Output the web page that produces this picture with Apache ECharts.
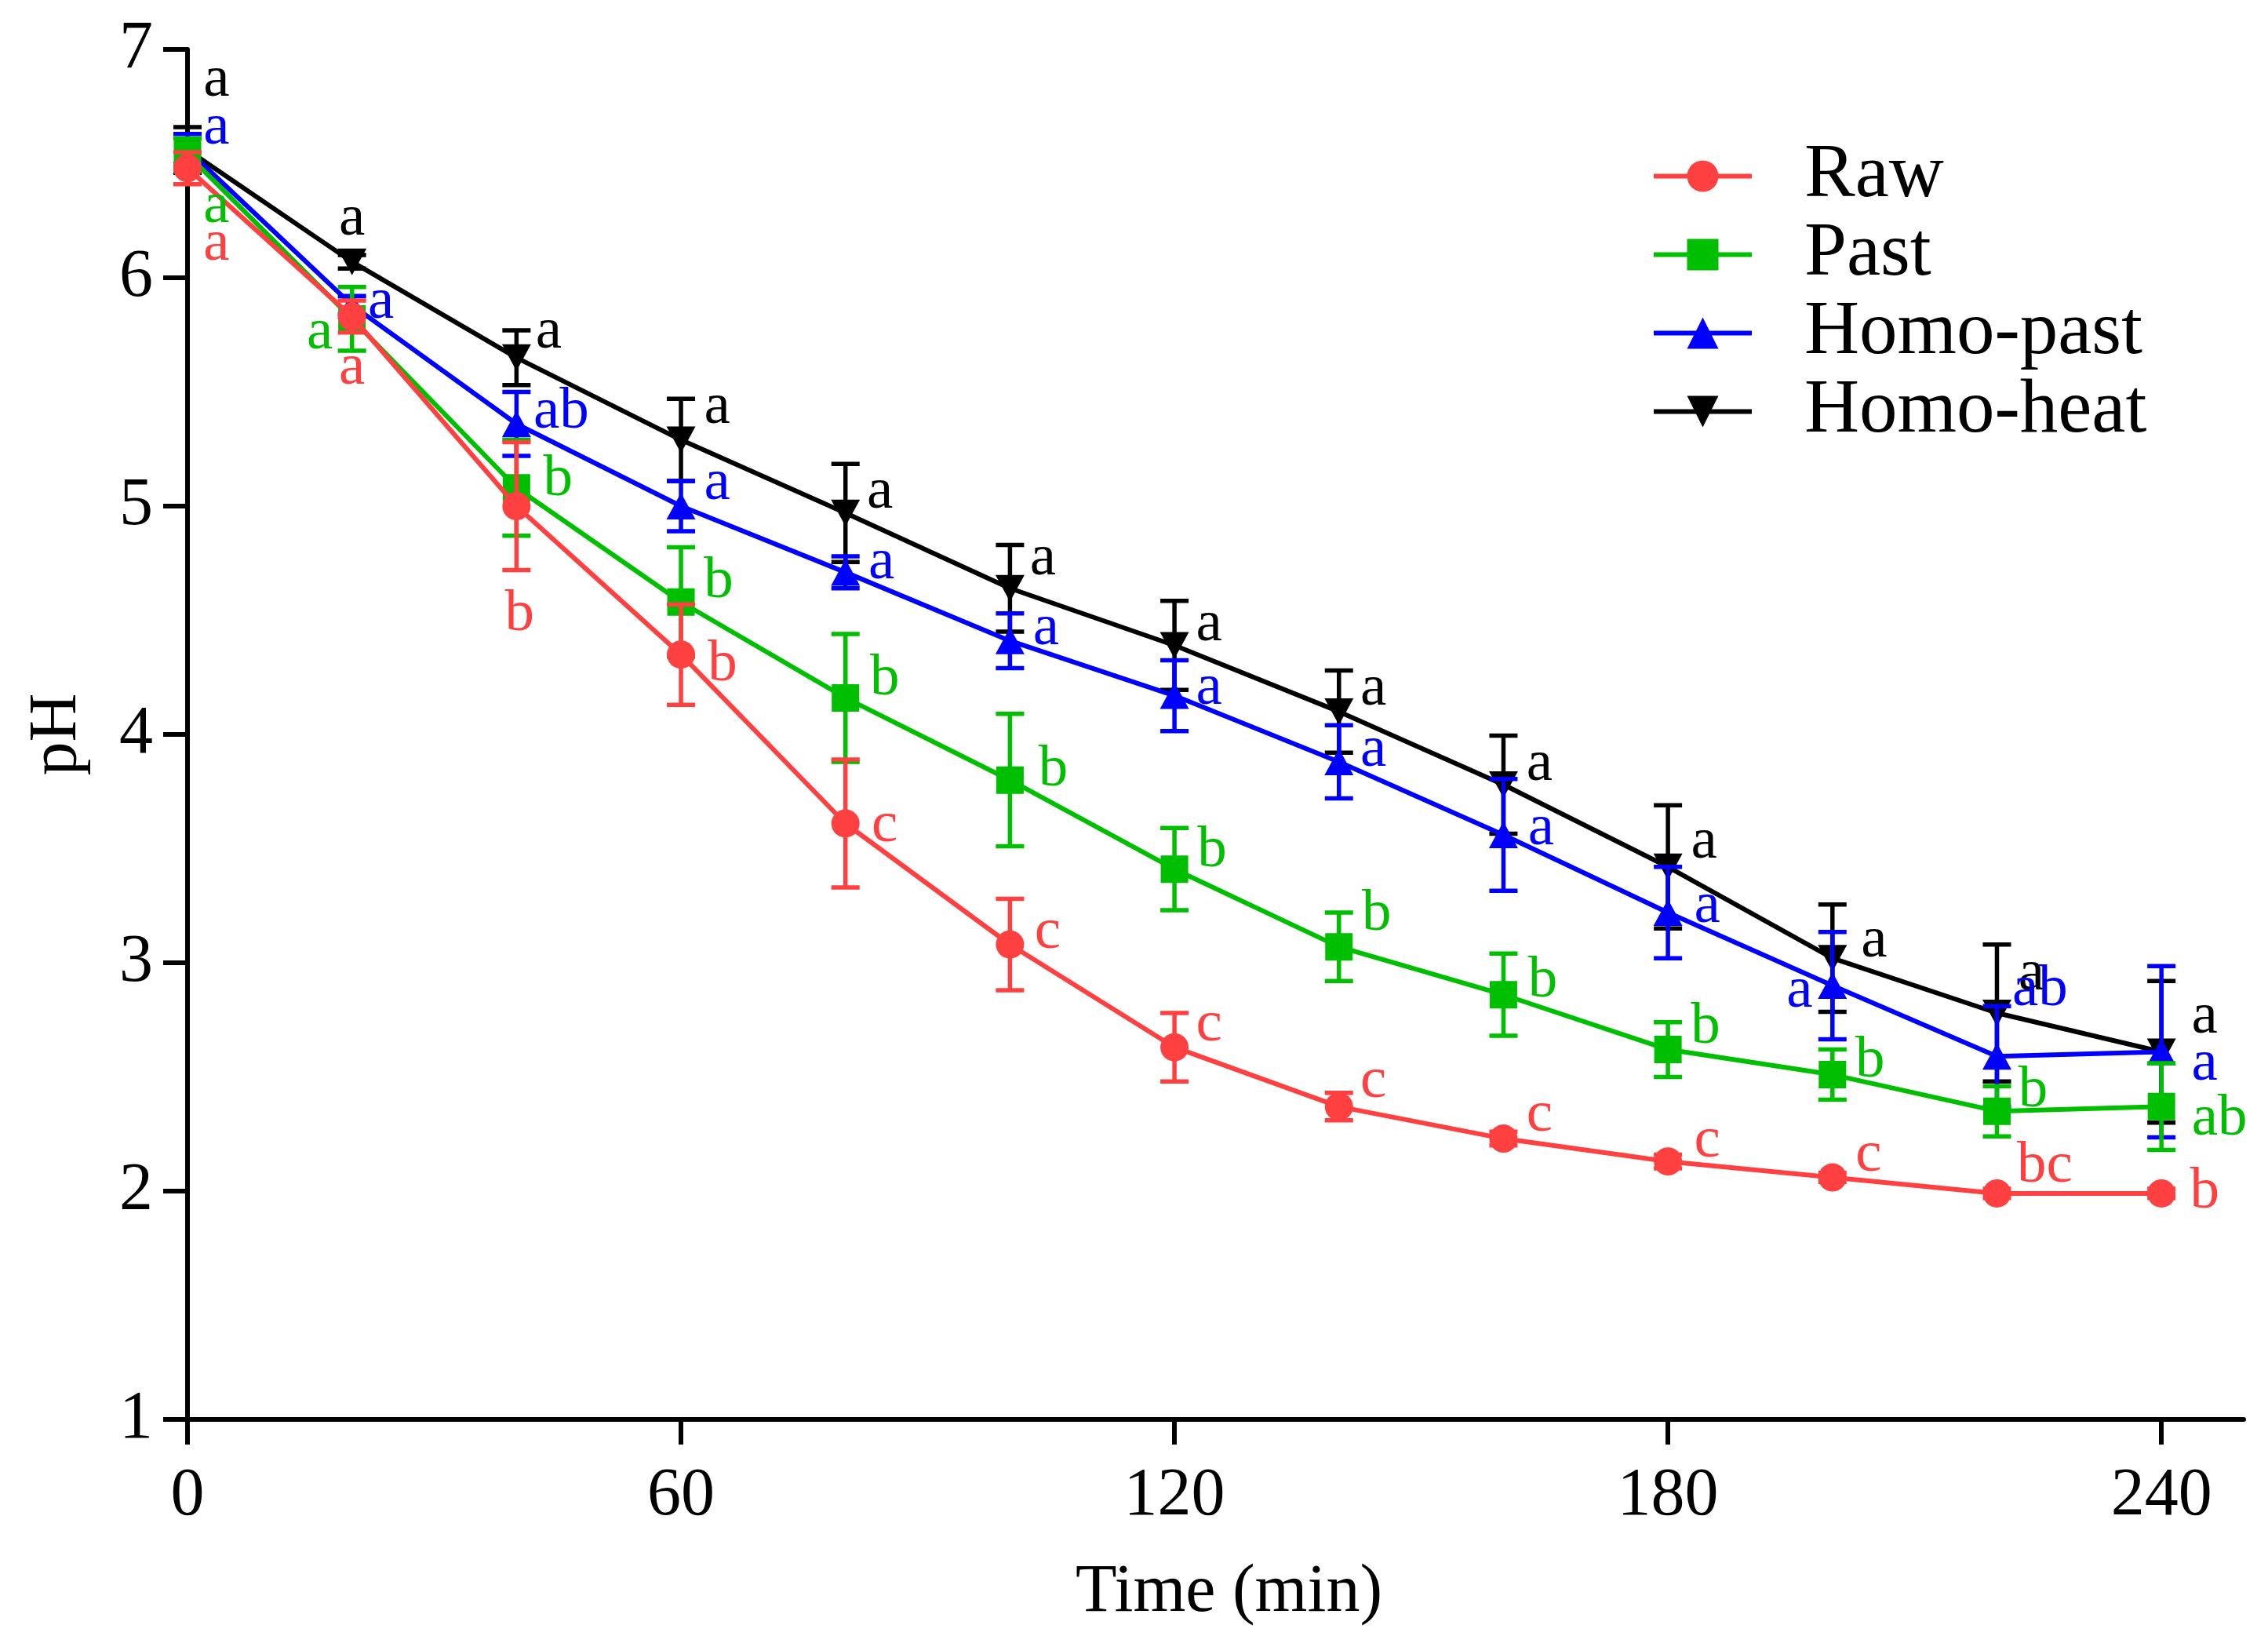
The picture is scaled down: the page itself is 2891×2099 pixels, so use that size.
<!DOCTYPE html>
<html>
<head>
<meta charset="utf-8">
<script src="https://cdn.jsdelivr.net/npm/echarts@6/dist/echarts.min.js"></script>
<style>
html,body{margin:0;padding:0;background:#fff;}
#chart{width:2891px;height:2099px;}
</style>
</head>
<body>
<div id="chart"></div>
<script>
// ---- data ----
const times = [0, 20, 40, 60, 80, 100, 120, 140, 160, 180, 200, 220, 240];
const xTicks = [0, 60, 120, 180, 240];
const seriesNames = ['Raw', 'Past', 'Homo-past', 'Homo-heat'];

const raw       = [6.48, 5.83, 5.00, 4.35, 3.61, 3.08, 2.63, 2.37, 2.23, 2.13, 2.06, 1.99, 1.99];
const rawSD     = [0.07, 0.07, 0.28, 0.22, 0.28, 0.20, 0.15, 0.06, 0.03, 0.03, 0.02, 0.02, 0.02];
const rawLetters = ['a', 'a', 'b', 'b', 'c', 'c', 'c', 'c', 'c', 'c', 'c', 'bc', 'b'];

const past      = [6.54, 5.82, 5.08, 4.58, 4.16, 3.80, 3.41, 3.07, 2.86, 2.62, 2.51, 2.35, 2.37];
const pastSD    = [0.07, 0.14, 0.21, 0.24, 0.28, 0.29, 0.18, 0.15, 0.18, 0.12, 0.11, 0.11, 0.19];
const pastLetters = ['a', 'a', 'b', 'b', 'b', 'b', 'b', 'b', 'b', 'b', 'b', 'b', 'ab'];

const homoPast   = [6.56, 5.88, 5.36, 5.00, 4.71, 4.41, 4.17, 3.88, 3.56, 3.22, 2.90, 2.59, 2.61];
const homoPastSD = [0.07, 0.04, 0.14, 0.11, 0.07, 0.12, 0.155, 0.16, 0.245, 0.20, 0.235, 0.22, 0.375];
const homoPastLetters = ['a', 'a', 'ab', 'a', 'a', 'a', 'a', 'a', 'a', 'a', 'a', 'ab', 'a'];

const homoHeat   = [6.56, 6.07, 5.65, 5.29, 4.97, 4.64, 4.39, 4.10, 3.78, 3.42, 3.02, 2.78, 2.61];
const homoHeatSD = [0.10, 0.03, 0.12, 0.18, 0.215, 0.19, 0.195, 0.18, 0.215, 0.27, 0.235, 0.30, 0.31];
const homoHeatLetters = ['a', 'a', 'a', 'a', 'a', 'a', 'a', 'a', 'a', 'a', 'a', 'a', 'a'];

// ---- style (label placement offsets in px, relative to the marker) ----
const labelOffsets = {
  'Raw': [[37,101],[0,70],[4,142],[53,17],[50,7],[48,-11],[44,-24],[44,-28],[46,-26],[50,-22],[46,-24],[61,-31],[55,2]],
  'Past': [[37,70],[-41,22],[53,-6],[48,-22],[50,-20],[55,-9],[48,-19],[48,-37],[50,-13],[48,-24],[48,-13],[46,-22],[74,20]],
  'Homo-past': [[37,-24],[37,0],[57,-11],[46,-25],[46,-8],[46,-11],[44,-5],[44,-11],[48,-4],[50,-4],[-42,11],[55,-81],[55,20]],
  'Homo-heat': [[37,-85],[0,-50],[41,-29],[46,-37],[44,-22],[42,-33],[44,-22],[44,-25],[46,-22],[46,-27],[53,-18],[44,-46],[55,-40]]
};
const colors = {'Raw':'#FF4040','Past':'#00BF00','Homo-past':'#0000FF','Homo-heat':'#000000'};
const symbols = {'Raw':'circle','Past':'rect','Homo-past':'triangle','Homo-heat':'triangle'};
const symbolSizes = {'Raw':36,'Past':35,'Homo-past':[37,34],'Homo-heat':[37,34]};
const rotates = {'Raw':0,'Past':0,'Homo-past':0,'Homo-heat':180};
const FONT = '"Liberation Serif", "Times New Roman", serif';

const groups = {
  'Raw': {v: raw, sd: rawSD, l: rawLetters},
  'Past': {v: past, sd: pastSD, l: pastLetters},
  'Homo-past': {v: homoPast, sd: homoPastSD, l: homoPastLetters},
  'Homo-heat': {v: homoHeat, sd: homoHeatSD, l: homoHeatLetters}
};

function errRender(color) {
  return function (params, api) {
    const x = api.value(0), y = api.value(1), e = api.value(2);
    const hi = api.coord([x, y + e]), lo = api.coord([x, y - e]);
    const hw = 18;
    const st = {stroke: color, lineWidth: 5.5, fill: null};
    return {type: 'group', children: [
      {type: 'line', shape: {x1: hi[0], y1: hi[1], x2: lo[0], y2: lo[1]}, style: st},
      {type: 'line', shape: {x1: hi[0] - hw, y1: hi[1], x2: hi[0] + hw, y2: hi[1]}, style: st},
      {type: 'line', shape: {x1: lo[0] - hw, y1: lo[1], x2: lo[0] + hw, y2: lo[1]}, style: st}
    ]};
  };
}
function labelRender(name) {
  const color = colors[name];
  const offs = labelOffsets[name];
  const letters = groups[name].l;
  return function (params, api) {
    const i = params.dataIndex;
    const c = api.coord([api.value(0), api.value(1)]);
    const o = offs[i];
    return {type: 'text', x: c[0] + o[0], y: c[1] + o[1] - 4,
      style: {text: letters[i], fill: color, font: '75px ' + FONT, align: 'center', verticalAlign: 'middle'}};
  };
}

const drawOrder = ['Homo-heat', 'Homo-past', 'Past', 'Raw'];
const series = [];
drawOrder.forEach(function (name, k) {
  const g = groups[name];
  series.push({
    type: 'custom', name: name + ' SD', coordinateSystem: 'cartesian2d',
    data: times.map(function (t, i) { return [t, g.v[i], g.sd[i]]; }),
    encode: {x: 0, y: 1}, renderItem: errRender(colors[name]), clip: false,
    z: 2 + k * 2, silent: true
  });
  series.push({
    type: 'line', name: name,
    data: times.map(function (t, i) { return [t, g.v[i]]; }),
    symbol: symbols[name], symbolSize: symbolSizes[name], symbolRotate: rotates[name],
    showAllSymbol: true,
    lineStyle: {color: colors[name], width: 6},
    itemStyle: {color: colors[name]},
    z: 3 + k * 2, animation: false
  });
});
drawOrder.forEach(function (name) {
  const g = groups[name];
  series.push({
    type: 'custom', name: name + ' letters', coordinateSystem: 'cartesian2d',
    data: times.map(function (t, i) { return [t, g.v[i]]; }),
    encode: {x: 0, y: 1}, renderItem: labelRender(name), clip: false, z: 20, silent: true
  });
});

const chart = echarts.init(document.getElementById('chart'), null, {renderer: 'canvas'});
chart.setOption({
  animation: false,
  backgroundColor: '#ffffff',
  grid: {left: 239, right: 31, top: 63, bottom: 290, containLabel: false},
  legend: {
    data: seriesNames, orient: 'vertical', left: 2100, top: 171,
    itemWidth: 125, itemHeight: 50, itemGap: 3,
    lineStyle: {width: 6},
    textStyle: {fontFamily: FONT, fontSize: 97, color: '#000', padding: [0, 0, 0, 62]},
    selectedMode: false
  },
  xAxis: {
    type: 'value', min: 0, max: 250, interval: 60,
    name: 'Time (min)', nameLocation: 'middle', nameGap: 178,
    nameTextStyle: {fontFamily: FONT, fontSize: 86, color: '#000', padding: [0, 0, 0, 34]},
    axisLine: {show: true, onZero: false, lineStyle: {color: '#000', width: 6}},
    axisTick: {show: true, length: 32, lineStyle: {color: '#000', width: 6}, customValues: xTicks},
    axisLabel: {fontFamily: FONT, fontSize: 86, color: '#000', margin: 55, customValues: xTicks},
    splitLine: {show: false}
  },
  yAxis: {
    type: 'value', min: 1, max: 7, interval: 1,
    name: 'pH', nameLocation: 'middle', nameGap: 123, nameRotate: 90,
    nameTextStyle: {fontFamily: FONT, fontSize: 86, color: '#000'},
    axisLine: {show: true, onZero: false, lineStyle: {color: '#000', width: 6}},
    axisTick: {show: true, length: 31, lineStyle: {color: '#000', width: 6}},
    axisLabel: {fontFamily: FONT, fontSize: 86, color: '#000', margin: 44},
    splitLine: {show: false}
  },
  series: series
});
</script>
</body>
</html>
